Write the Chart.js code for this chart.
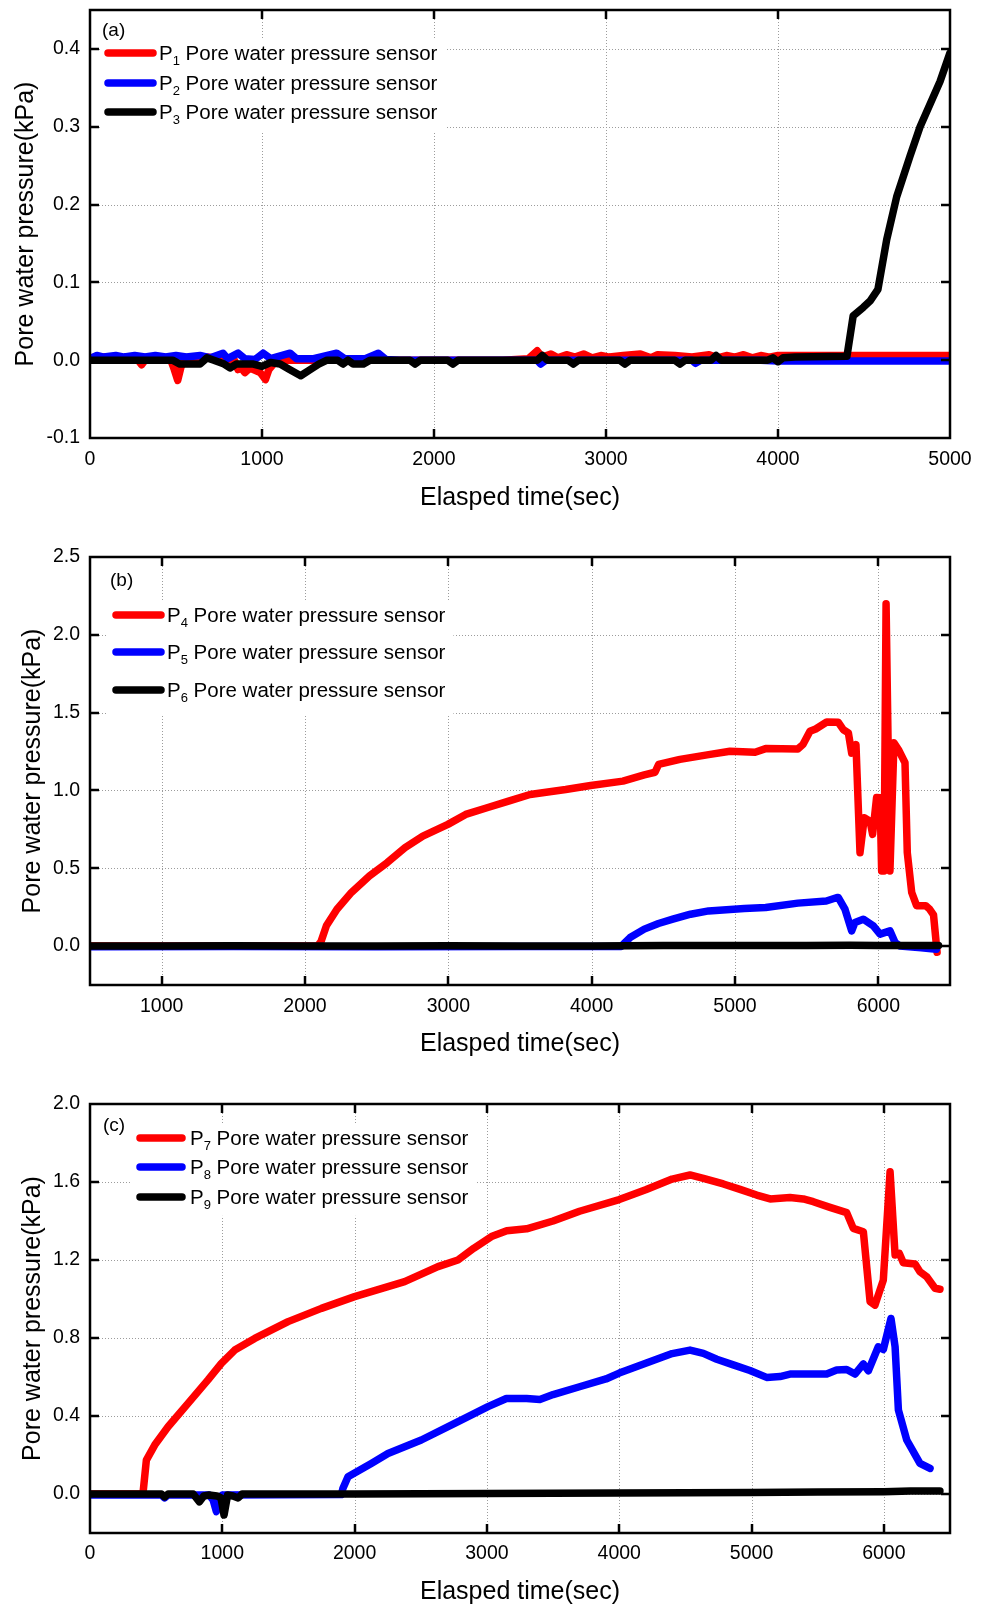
<!DOCTYPE html>
<html><head><meta charset="utf-8">
<script src="https://cdn.jsdelivr.net/npm/chart.js@4.4.1/dist/chart.umd.min.js"></script>
<style>
html,body{margin:0;padding:0;background:#fff;}
body{width:986px;height:1606px;position:relative;overflow:hidden;}
.box{position:absolute;left:0;width:986px;}
</style></head><body>
<div class="box" style="top:0;height:520px"><canvas id="ca"></canvas></div>
<div class="box" style="top:520px;height:545px"><canvas id="cb"></canvas></div>
<div class="box" style="top:1065px;height:541px"><canvas id="cc"></canvas></div>
<script>
// ---------------- DATA ----------------
const xTitle = 'Elasped time(sec)';
const yTitle = 'Pore water pressure(kPa)';
const seriesText = 'Pore water pressure sensor';

// Panel (a)
const xTicksA = [0, 1000, 2000, 3000, 4000, 5000];
const yTicksA = [-0.1, 0.0, 0.1, 0.2, 0.3, 0.4];
const p1 = [[0,0.003],[60,0.004],[120,0.004],[180,0.003],[240,0.003],[280,0],[300,-0.006],[320,0],[360,0.002],[420,0.003],[470,0],[490,-0.012],[510,-0.026],[530,-0.008],[560,0.002],[620,0.003],[680,0.004],[720,0.003],[760,0.002],[800,0],[840,0],[860,-0.012],[880,-0.01],[900,-0.016],[930,-0.01],[960,-0.013],[990,-0.016],[1020,-0.025],[1040,-0.012],[1070,-0.004],[1120,0],[1300,0],[1600,0],[2000,0],[2400,0],[2550,0.002],[2600,0.012],[2630,0.004],[2680,0.008],[2720,0.003],[2770,0.007],[2820,0.004],[2870,0.008],[2920,0.003],[2970,0.006],[3020,0.004],[3100,0.006],[3200,0.008],[3260,0.003],[3300,0.007],[3400,0.006],[3500,0.004],[3600,0.007],[3650,0.003],[3700,0.006],[3750,0.004],[3800,0.007],[3850,0.003],[3900,0.006],[3950,0.004],[4000,0.006],[4500,0.006],[5000,0.006]];
const p2 = [[0,0.002],[40,0.006],[80,0.004],[150,0.006],[200,0.004],[260,0.006],[320,0.004],[380,0.006],[440,0.004],[500,0.006],[560,0.004],[640,0.006],[700,0.003],[773,0.009],[800,0.002],[861,0.009],[900,0.002],[960,0.001],[1007,0.009],[1050,0.002],[1163,0.009],[1200,0.002],[1300,0.002],[1434,0.009],[1480,0.002],[1600,0.002],[1676,0.009],[1720,0.001],[1800,0],[2600,0],[2620,-0.005],[2650,0],[3500,0],[3520,-0.004],[3550,0],[3900,0],[4000,-0.001],[5000,-0.001]];
const p3 = [[0,0],[200,0],[480,0],[523,-0.005],[640,-0.005],[680,0.003],[720,0],[780,-0.005],[814,-0.01],[850,-0.005],[950,-0.005],[1000,-0.008],[1050,-0.003],[1105,-0.005],[1160,-0.012],[1225,-0.02],[1280,-0.012],[1330,-0.005],[1378,0],[1440,0],[1471,-0.005],[1500,0],[1530,-0.005],[1590,-0.005],[1628,0],[1860,0],[1890,-0.005],[1920,0],[2080,0],[2110,-0.005],[2140,0],[2600,0],[2630,0.006],[2660,0],[2780,0],[2810,-0.005],[2840,0],[3080,0],[3110,-0.005],[3140,0],[3400,0],[3430,-0.005],[3460,0],[3610,0],[3640,0.006],[3670,0],[3940,0],[3970,0.003],[4000,-0.002],[4030,0.003],[4100,0.004],[4401,0.005],[4437,0.057],[4496,0.068],[4535,0.076],[4581,0.091],[4632,0.155],[4690,0.21],[4767,0.262],[4826,0.30],[4942,0.358],[5000,0.395]];

// Panel (b)
const xTicksB = [1000, 2000, 3000, 4000, 5000, 6000];
const yTicksB = [0.0, 0.5, 1.0, 1.5, 2.0, 2.5];
const p4 = [[500,0],[2087,0],[2112,0.03],[2149,0.13],[2223,0.237],[2324,0.345],[2449,0.45],[2573,0.536],[2698,0.632],[2822,0.707],[2997,0.782],[3121,0.846],[3270,0.889],[3420,0.931],[3570,0.974],[3819,1.006],[3993,1.032],[4218,1.06],[4367,1.10],[4442,1.117],[4467,1.167],[4616,1.20],[4816,1.23],[4965,1.252],[5140,1.245],[5214,1.269],[5439,1.267],[5474,1.295],[5523,1.38],[5563,1.395],[5640,1.44],[5721,1.438],[5756,1.39],[5791,1.37],[5814,1.24],[5844,1.295],[5872,0.60],[5902,0.825],[5942,0.803],[5960,0.718],[5988,0.955],[6012,0.953],[6023,0.483],[6040,0.483],[6054,2.20],[6081,0.483],[6109,1.306],[6140,1.263],[6186,1.178],[6202,0.60],[6233,0.344],[6267,0.26],[6330,0.26],[6355,0.24],[6385,0.2],[6410,-0.04]];
const p5 = [[500,-0.005],[1500,-0.003],[2500,-0.005],[3500,-0.003],[4205,-0.003],[4230,0.02],[4268,0.055],[4367,0.109],[4466,0.145],[4566,0.173],[4690,0.205],[4816,0.226],[5065,0.241],[5214,0.248],[5439,0.276],[5637,0.29],[5712,0.312],[5721,0.312],[5767,0.237],[5814,0.098],[5837,0.152],[5895,0.173],[5965,0.13],[6012,0.077],[6081,0.098],[6116,0.024],[6150,0.0],[6300,-0.01],[6405,-0.02]];
const p6 = [[500,0],[1000,0],[1500,0.002],[2000,0],[2500,0.001],[3000,0.002],[3500,0.001],[4000,0],[4500,0.003],[5000,0.003],[5500,0.004],[5800,0.006],[6000,0.004],[6200,0.004],[6420,0.004]];

// Panel (c)
const xTicksC = [0, 1000, 2000, 3000, 4000, 5000, 6000];
const yTicksC = [0.0, 0.4, 0.8, 1.2, 1.6, 2.0];
const p7 = [[0,0],[375,0],[400,0.0],[426,0.174],[489,0.251],[590,0.345],[741,0.465],[892,0.585],[993,0.67],[1094,0.738],[1245,0.798],[1497,0.884],[1749,0.952],[2000,1.012],[2378,1.089],[2630,1.166],[2781,1.2],[2900,1.26],[3034,1.32],[3150,1.35],[3300,1.36],[3500,1.40],[3700,1.45],[4000,1.51],[4200,1.56],[4400,1.615],[4535,1.636],[4636,1.619],[4787,1.59],[4913,1.562],[5039,1.533],[5140,1.513],[5291,1.52],[5391,1.513],[5467,1.499],[5593,1.47],[5719,1.443],[5769,1.362],[5845,1.345],[5896,0.986],[5933,0.969],[5996,1.097],[6047,1.653],[6085,1.226],[6117,1.234],[6147,1.186],[6236,1.179],[6273,1.14],[6324,1.114],[6387,1.055],[6424,1.05]];
const p8 = [[0,-0.005],[300,-0.005],[540,-0.005],[564,-0.02],[590,-0.005],[900,-0.005],[930,-0.03],[955,-0.09],[975,-0.02],[1000,-0.005],[1900,-0.003],[1912,0.03],[1950,0.089],[2126,0.157],[2252,0.208],[2504,0.277],[2756,0.362],[3008,0.448],[3147,0.49],[3300,0.49],[3400,0.485],[3500,0.51],[3700,0.55],[3900,0.59],[4000,0.62],[4200,0.67],[4400,0.72],[4535,0.738],[4636,0.721],[4737,0.691],[4862,0.662],[4988,0.633],[5114,0.598],[5215,0.602],[5291,0.615],[5568,0.615],[5643,0.636],[5719,0.639],[5782,0.615],[5845,0.667],[5883,0.632],[5958,0.755],[5996,0.741],[6054,0.90],[6085,0.755],[6110,0.431],[6173,0.277],[6273,0.157],[6349,0.131]];
const p9 = [[0,0],[540,0],[564,-0.015],[590,0],[780,0],[827,-0.04],[860,-0.01],[900,-0.005],[960,-0.01],[990,-0.02],[1013,-0.108],[1040,-0.005],[1080,-0.01],[1120,-0.02],[1150,0],[2000,0],[3000,0.003],[4000,0.005],[5000,0.008],[5500,0.01],[6000,0.012],[6200,0.015],[6424,0.015]];

// ---------------- RENDERING ----------------
Chart.defaults.color = '#000';
Chart.defaults.font.family = '"Liberation Sans", Arial, sans-serif';
const FONT = '"Liberation Sans", Arial, sans-serif';

const toXY = arr => arr.map(p => ({x: p[0], y: p[1]}));

const frameGridPlugin = {
  id: 'frameGrid',
  beforeDatasetsDraw(chart) {
    const {ctx, chartArea: a, scales: {x, y}} = chart;
    ctx.save();
    ctx.strokeStyle = '#9c9c9c';
    ctx.lineWidth = 1;
    ctx.setLineDash([1, 2]);
    ctx.beginPath();
    x.ticks.forEach(t => {
      const px = Math.round(x.getPixelForValue(t.value)) + 0.5;
      if (px > a.left + 3 && px < a.right - 3) { ctx.moveTo(px, a.top); ctx.lineTo(px, a.bottom); }
    });
    y.ticks.forEach(t => {
      const py = Math.round(y.getPixelForValue(t.value)) + 0.5;
      if (py > a.top + 3 && py < a.bottom - 3) { ctx.moveTo(a.left, py); ctx.lineTo(a.right, py); }
    });
    ctx.stroke();
    ctx.restore();
  },
  afterDatasetsDraw(chart) {
    const {ctx, chartArea: a, scales: {x, y}} = chart;
    ctx.save();
    ctx.setLineDash([]);
    ctx.strokeStyle = '#000';
    ctx.lineWidth = 2.5;
    ctx.strokeRect(a.left, a.top, a.right - a.left, a.bottom - a.top);
    const L = 9;
    ctx.beginPath();
    x.ticks.forEach(t => {
      const px = Math.round(x.getPixelForValue(t.value));
      if (px > a.left + 3 && px < a.right - 3) {
        ctx.moveTo(px, a.bottom); ctx.lineTo(px, a.bottom - L);
        ctx.moveTo(px, a.top); ctx.lineTo(px, a.top + L);
      }
    });
    y.ticks.forEach(t => {
      const py = Math.round(y.getPixelForValue(t.value));
      if (py > a.top + 3 && py < a.bottom - 3) {
        ctx.moveTo(a.left, py); ctx.lineTo(a.left + L, py);
        ctx.moveTo(a.right, py); ctx.lineTo(a.right - L, py);
      }
    });
    ctx.stroke();
    ctx.restore();
  }
};

const legendPlugin = {
  id: 'sensorLegend',
  afterDatasetsDraw(chart, args, o) {
    const {ctx} = chart;
    ctx.save();
    const ds = chart.data.datasets;
    const main = '20.5px ' + FONT, sub = '13px ' + FONT;
    let maxEnd = 0;
    const parts = ds.map(d => {
      const m = d.label.match(/^P(\d+)\s(.*)$/);
      return {id: m[1], rest: ' ' + m[2], color: d.borderColor};
    });
    parts.forEach(p => {
      ctx.font = main; const wP = ctx.measureText('P').width; const wR = ctx.measureText(p.rest).width;
      ctx.font = sub; const wS = ctx.measureText(p.id).width;
      p.wP = wP; p.wS = wS;
      maxEnd = Math.max(maxEnd, o.textX + wP + wS + wR);
    });
    const r0 = o.rows[0], rN = o.rows[o.rows.length - 1];
    const gap = o.rows.length > 1 ? (o.rows[1] - o.rows[0]) : 30;
    ctx.fillStyle = '#fff';
    ctx.fillRect(o.swX0 - 5, r0 - 15, maxEnd + 8 - (o.swX0 - 5), rN + gap * 0.65 - (r0 - 15));
    parts.forEach((p, i) => {
      const ry = o.rows[i];
      ctx.strokeStyle = p.color; ctx.lineWidth = 7.5; ctx.lineCap = 'round';
      ctx.beginPath(); ctx.moveTo(o.swX0 + 3, ry); ctx.lineTo(o.swX1 - 3, ry); ctx.stroke();
      ctx.fillStyle = '#000';
      ctx.textBaseline = 'alphabetic'; ctx.textAlign = 'left';
      const base = ry + 7;
      ctx.font = main; ctx.fillText('P', o.textX, base);
      ctx.font = sub; ctx.fillText(p.id, o.textX + p.wP, base + 5);
      ctx.font = main; ctx.fillText(p.rest, o.textX + p.wP + p.wS, base);
    });
    ctx.font = '19px ' + FONT; ctx.fillStyle = '#000'; ctx.textBaseline = 'middle';
    ctx.fillText(o.panel, o.panelX, o.panelY);
    ctx.restore();
  }
};

function makeChart(id, cfg) {
  const colors = ['#ff0000', '#0000ff', '#000000'];
  return new Chart(document.getElementById(id), {
    type: 'line',
    data: {
      datasets: cfg.series.map((s, i) => ({
        label: 'P' + cfg.ids[i] + ' ' + seriesText,
        data: toXY(s),
        borderColor: colors[i],
        backgroundColor: colors[i],
        borderWidth: 7.5,
        pointRadius: 0,
        tension: 0,
        fill: false,
        borderCapStyle: 'round',
        borderJoinStyle: 'round',
        order: 3 - i
      }))
    },
    options: {
      responsive: true,
      maintainAspectRatio: false,
      devicePixelRatio: 1,
      animation: false,
      layout: {padding: {top: cfg.padTop, right: 36, left: 0, bottom: 0}},
      plugins: {
        legend: {display: false},
        tooltip: {enabled: false},
        sensorLegend: cfg.legend
      },
      scales: {
        x: {
          type: 'linear', min: cfg.xMin, max: cfg.xMax,
          afterBuildTicks: s => { s.ticks = cfg.xTicks.map(v => ({value: v})); },
          afterFit: s => { s.height = cfg.xAxisH; s.paddingLeft = 0; s.paddingRight = 0; },
          grid: {display: false, drawTicks: false},
          border: {display: false},
          ticks: {padding: cfg.xTickPad, autoSkip: false, maxRotation: 0, font: {size: 19.5}, callback: v => String(v)},
          title: {display: true, text: xTitle, font: {size: 25}, padding: {top: 0, bottom: cfg.xTitlePad}}
        },
        y: {
          type: 'linear', min: cfg.yMin, max: cfg.yMax,
          afterBuildTicks: s => { s.ticks = cfg.yTicks.map(v => ({value: v})); },
          afterFit: s => { s.width = 90; s.paddingTop = 0; s.paddingBottom = 0; },
          grid: {display: false, drawTicks: false},
          border: {display: false},
          ticks: {padding: 10, autoSkip: false, font: {size: 19.5}, callback: v => Number(v).toFixed(1)},
          title: {display: true, text: yTitle, font: {size: 25}, padding: {top: cfg.yTitlePad, bottom: 0}}
        }
      }
    },
    plugins: [frameGridPlugin, legendPlugin]
  });
}

makeChart('ca', {
  series: [p1, p2, p3], ids: ['1', '2', '3'],
  xMin: 0, xMax: 5000, yMin: -0.1, yMax: 0.45,
  xTicks: xTicksA, yTicks: yTicksA,
  padTop: 10, xAxisH: 82, xTickPad: 10, xTitlePad: 7, yTitlePad: 11,
  legend: {rows: [53, 83, 112], swX0: 105, swX1: 156, textX: 159, panel: '(a)', panelX: 102, panelY: 31}
});
makeChart('cb', {
  series: [p4, p5, p6], ids: ['4', '5', '6'],
  xMin: 500, xMax: 6500, yMin: -0.25, yMax: 2.5,
  xTicks: xTicksB, yTicks: yTicksB,
  padTop: 37, xAxisH: 80, xTickPad: 10, xTitlePad: 6, yTitlePad: 18,
  legend: {rows: [95, 132, 170], swX0: 113, swX1: 164, textX: 167, panel: '(b)', panelX: 110, panelY: 61}
});
makeChart('cc', {
  series: [p7, p8, p9], ids: ['7', '8', '9'],
  xMin: 0, xMax: 6500, yMin: -0.2, yMax: 2.0,
  xTicks: xTicksC, yTicks: yTicksC,
  padTop: 39, xAxisH: 73, xTickPad: 9, xTitlePad: -1, yTitlePad: 18,
  legend: {rows: [73, 102, 132], swX0: 137, swX1: 185, textX: 190, panel: '(c)', panelX: 103, panelY: 61}
});
</script>
</body></html>
